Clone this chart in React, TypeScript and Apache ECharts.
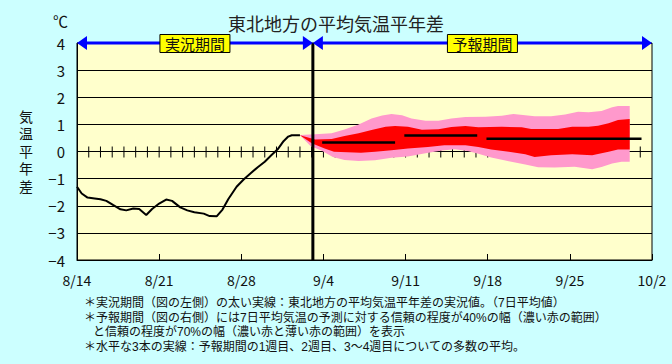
import React, { useEffect, useRef } from 'react';
import * as echarts from 'echarts';

const FONT = '"Noto Sans CJK JP", "Noto Sans", sans-serif';
const FONT_TIGHT = '"Liberation Sans", "Noto Sans CJK JP", sans-serif';

// x axis: days since 8/14
const xTickLabels = ['8/14', '8/21', '8/28', '9/4', '9/11', '9/18', '9/25', '10/2'];
const dayTicks = Array.from({ length: 48 }, (_, i) => i + 1);

// observed 7-day mean anomaly (°C), [day, value]
const observed: [number, number][] = [
  [0, -1.3], [0.4, -1.55], [0.9, -1.7], [1.5, -1.73], [2.0, -1.76], [2.5, -1.82],
  [3.1, -1.98], [3.7, -2.13], [4.2, -2.17], [4.8, -2.1], [5.3, -2.12], [5.9, -2.34],
  [6.4, -2.12], [7.0, -1.92], [7.6, -1.77], [8.1, -1.82], [8.8, -2.06], [9.4, -2.17],
  [10.0, -2.24], [10.8, -2.29], [11.3, -2.38], [11.9, -2.39], [12.4, -2.14], [12.9, -1.75],
  [13.6, -1.3], [14.2, -1.03], [14.8, -0.8], [15.4, -0.58], [16.0, -0.38], [16.6, -0.12],
  [17.1, 0.08], [17.6, 0.38], [18.0, 0.55], [18.3, 0.6], [19.0, 0.6],
];

// 70% range (pink)
const pinkUpper: [number, number][] = [
  [19.0, 0.61], [20.3, 0.64], [21.7, 0.67], [22.8, 0.81], [24.0, 1.0], [25.1, 1.22],
  [26.0, 1.33], [26.8, 1.38], [27.7, 1.34], [28.5, 1.22], [29.7, 1.13], [30.8, 1.13],
  [31.9, 1.22], [33.1, 1.27], [34.8, 1.28], [36.2, 1.32], [37.2, 1.38], [38.2, 1.34],
  [39.0, 1.3], [40.4, 1.3], [41.6, 1.36], [42.7, 1.47], [43.6, 1.45], [44.7, 1.49],
  [45.6, 1.63], [46.1, 1.68], [47.1, 1.68],
];
const pinkLower: [number, number][] = [
  [19.0, 0.6], [19.9, 0.2], [20.9, 0.02], [21.8, -0.2], [22.8, -0.31], [24.0, -0.35],
  [25.4, -0.32], [26.8, -0.23], [28.2, -0.18], [29.7, -0.06], [31.1, 0.04], [32.2, 0.08],
  [33.3, 0.02], [34.2, -0.08], [35.3, -0.22], [36.8, -0.36], [38.2, -0.48], [39.3, -0.58],
  [40.7, -0.59], [42.4, -0.56], [43.9, -0.65], [44.7, -0.57], [45.6, -0.44], [46.4, -0.38],
  [47.1, -0.38],
];
// 40% range (red)
const redUpper: [number, number][] = [
  [19.0, 0.6], [20.3, 0.44], [21.7, 0.46], [22.8, 0.57], [24.0, 0.67], [25.1, 0.79],
  [26.3, 0.91], [27.1, 0.94], [28.2, 0.91], [29.4, 0.8], [30.8, 0.82], [31.9, 0.9],
  [33.1, 0.94], [34.2, 0.89], [36.2, 0.91], [37.9, 0.89], [38.7, 0.83], [41.0, 0.83],
  [42.2, 0.91], [43.6, 0.91], [44.4, 0.95], [45.3, 1.04], [46.1, 1.16], [47.1, 1.2],
];
const redLower: [number, number][] = [
  [19.0, 0.6], [20.0, 0.3], [21.1, 0.11], [21.9, -0.01], [24.2, -0.05], [25.4, -0.01],
  [26.8, 0.05], [28.2, 0.11], [29.9, 0.17], [31.3, 0.23], [33.1, 0.23], [34.2, 0.17],
  [35.3, 0.07], [36.8, -0.01], [38.2, -0.1], [39.0, -0.2], [40.4, -0.14], [42.2, -0.1],
  [43.9, -0.14], [45.3, -0.01], [46.1, 0.07], [47.1, 0.07],
];

// weekly ensemble means: [fromDay, toDay, value]
const weeklyMeans: [number, number, number][] = [
  [21, 27, 0.33],
  [28, 34, 0.59],
  [35, 48, 0.47],
];

const forecastStart = 20.1;
const periodRanges: [number, number][] = [[0, forecastStart], [forecastStart, 49]];
const periodLabels = ['実況期間', '予報期間'];

const notes = [
  '＊実況期間（図の左側）の太い実線：東北地方の平均気温平年差の実況値。（7日平均値）',
  '＊予報期間（図の右側）には7日平均気温の予測に対する信頼の程度が40%の幅（濃い赤の範囲）',
  'と信頼の程度が70%の幅（濃い赤と薄い赤の範囲）を表示',
  '＊水平な3本の実線：予報期間の1週目、2週目、3～4週目についての多数の平均。',
];
const noteTops = [295.5, 310.5, 325, 340];

function bandSeries(upper: [number, number][], lower: [number, number][], color: string, z: number) {
  return {
    type: 'custom',
    coordinateSystem: 'cartesian2d',
    silent: true,
    z,
    data: [[upper[0][0], upper[0][1]]],
    renderItem: (_params: any, api: any) => {
      const pts = upper.map((p) => api.coord(p)).concat(lower.slice().reverse().map((p) => api.coord(p)));
      return { type: 'polygon', shape: { points: pts }, style: { fill: color, stroke: 'none' } };
    },
  };
}

export default function App() {
  const ref = useRef<HTMLDivElement>(null);
  useEffect(() => {
    if (!ref.current) return;
    const chart = echarts.init(ref.current, undefined, { renderer: 'svg' });
    const option: any = {
      animation: false,
      backgroundColor: '#CCFFFF',
      textStyle: { fontFamily: FONT },
      title: {
        text: '東北地方の平均気温平年差',
        left: 'center',
        top: 9,
        textStyle: { fontSize: 18, fontWeight: 'normal', color: '#222', fontFamily: FONT },
      },
      grid: {
        left: 77, right: 20, top: 43, bottom: 104,
        show: true, backgroundColor: '#FFFFCC', borderColor: '#000', borderWidth: 1,
      },
      xAxis: {
        type: 'value', min: 0, max: 49, interval: 7,
        axisLine: { onZero: false, lineStyle: { color: '#000', width: 1 } },
        axisTick: { show: true, inside: true, length: 6, lineStyle: { color: '#000' } },
        axisLabel: {
          formatter: (v: number) => xTickLabels[Math.round(v / 7)] ?? '',
          fontSize: 14, color: '#111', margin: 13, fontFamily: FONT,
        },
        splitLine: { show: false },
      },
      yAxis: {
        type: 'value', min: -4, max: 4, interval: 1,
        name: '気\n温\n平\n年\n差',
        nameLocation: 'middle', nameRotate: 0, nameGap: 44,
        nameTextStyle: { fontSize: 14, lineHeight: 17.5, color: '#111', fontFamily: FONT_TIGHT },
        axisLine: { show: true, lineStyle: { color: '#000', width: 1 } },
        axisTick: { show: false },
        axisLabel: {
          formatter: (v: number) => String(v).replace('-', '−'),
          fontSize: 15, color: '#111', margin: 12, fontFamily: FONT,
        },
        splitLine: { show: true, lineStyle: { color: '#000', width: 1 } },
      },
      graphic: [
        { type: 'text', left: 53, top: 13, style: { text: '℃', fontSize: 15, fill: '#111', fontFamily: FONT } },
        ...notes.map((t, i) => ({
          type: 'text',
          left: i === 2 ? 93 : 84,
          top: noteTops[i],
          style: { text: t, fontSize: 12, lineHeight: 14, fill: '#111', fontFamily: FONT_TIGHT },
        })),
      ],
      series: [
        {
          type: 'custom',
          coordinateSystem: 'cartesian2d',
          silent: true,
          z: 2,
          data: dayTicks.map((d) => [d, 0]),
          renderItem: (_p: any, api: any) => {
            const c = api.coord([api.value(0), api.value(1)]);
            return {
              type: 'line',
              shape: { x1: c[0], y1: c[1] - 5, x2: c[0], y2: c[1] + 6 },
              style: { stroke: '#000', lineWidth: 1 },
            };
          },
        },
        bandSeries(pinkUpper, pinkLower, '#FF99CC', 3),
        bandSeries(redUpper, redLower, '#FF0000', 4),
        {
          type: 'line', z: 5, silent: true, showSymbol: false, symbol: 'none',
          data: observed,
          lineStyle: { color: '#000', width: 2 },
        },
        ...weeklyMeans.map((w) => ({
          type: 'line', z: 5, silent: true, symbol: 'none',
          data: [[w[0], w[2]], [w[1], w[2]]],
          lineStyle: { color: '#000', width: 2.5, cap: 'square' },
        })),
        {
          type: 'line', z: 6, silent: true, symbol: 'none',
          data: [[forecastStart, -4], [forecastStart, 4]],
          lineStyle: { color: '#000', width: 3 },
        },
        {
          type: 'custom',
          coordinateSystem: 'cartesian2d',
          silent: true,
          z: 10,
          data: periodRanges.map((r) => [r[0], r[1], 4]),
          renderItem: (params: any, api: any) => {
            const s = api.coord([api.value(0), api.value(2)]);
            const e = api.coord([api.value(1), api.value(2)]);
            const y = s[1];
            const mid = (s[0] + e[0]) / 2;
            const label = periodLabels[params.dataIndex];
            return {
              type: 'group',
              children: [
                { type: 'line', shape: { x1: s[0] + 6, y1: y, x2: e[0] - 6, y2: y }, style: { stroke: '#0000FF', lineWidth: 3 } },
                { type: 'polygon', shape: { points: [[s[0], y], [s[0] + 10, y - 7], [s[0] + 10, y + 7]] }, style: { fill: '#0000FF' } },
                { type: 'polygon', shape: { points: [[e[0], y], [e[0] - 10, y - 7], [e[0] - 10, y + 7]] }, style: { fill: '#0000FF' } },
                { type: 'rect', shape: { x: mid - 35, y: y - 8.5, width: 70, height: 18 }, style: { fill: '#FFFF00', stroke: '#000', lineWidth: 1 } },
                {
                  type: 'text', x: mid, y: y + 0.5,
                  style: { text: label, fill: '#111', fontSize: 15, fontFamily: FONT, align: 'center', verticalAlign: 'middle' },
                },
              ],
            };
          },
        },
      ],
    };
    chart.setOption(option);
    return () => chart.dispose();
  }, []);
  return <div ref={ref} style={{ position: 'fixed', left: 0, top: 0, width: 672, height: 364 }} />;
}
